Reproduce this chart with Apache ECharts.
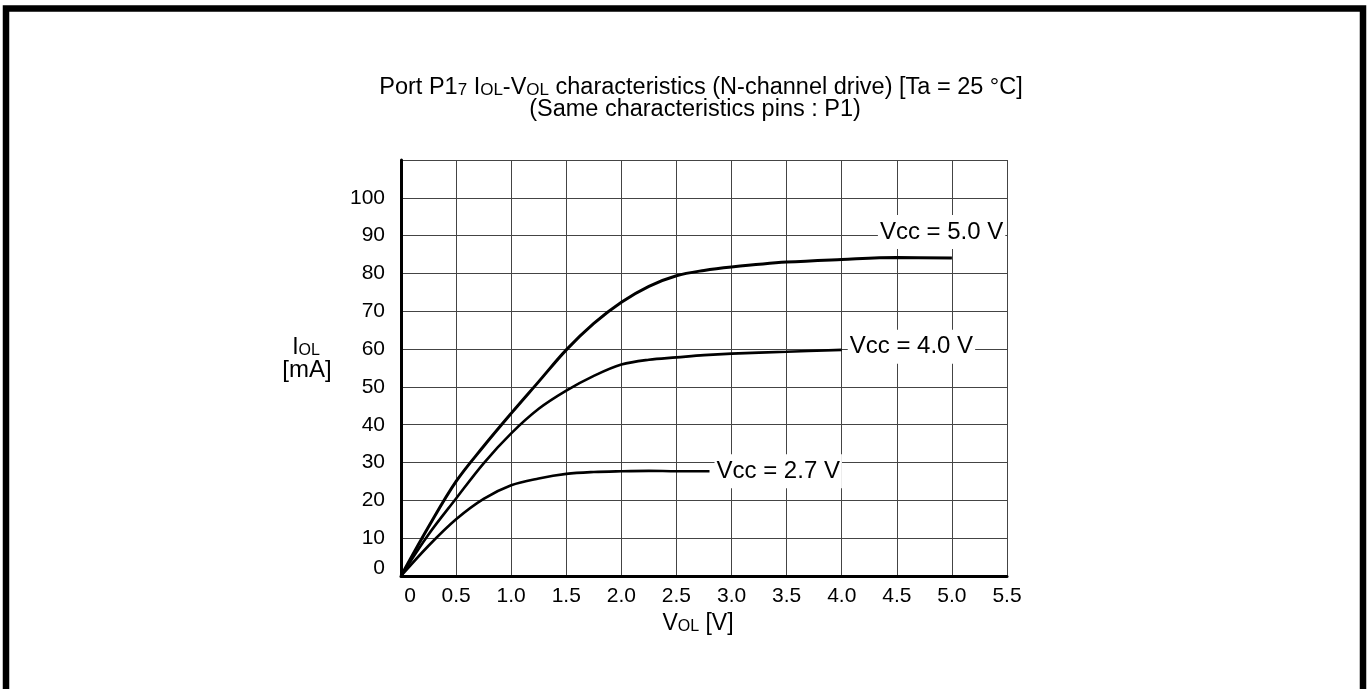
<!DOCTYPE html>
<html>
<head>
<meta charset="utf-8">
<script src="https://cdn.jsdelivr.net/npm/echarts@6/dist/echarts.min.js"></script>
<style>
  html, body { margin: 0; padding: 0; background: #fff; }
  #chart { width: 1370px; height: 689px; }
</style>
</head>
<body>
<div id="chart"></div>
<script>
// ---- data ----
const xTickLabels = ['0', '0.5', '1.0', '1.5', '2.0', '2.5', '3.0', '3.5', '4.0', '4.5', '5.0', '5.5'];
const yTickLabels = ['0', '10', '20', '30', '40', '50', '60', '70', '80', '90', '100'];

const seriesNames = ['Vcc = 5.0 V', 'Vcc = 4.0 V', 'Vcc = 2.7 V'];

const vcc50 = [[0, 0], [0.25, 13], [0.5, 25], [0.75, 34.3], [1.0, 43], [1.25, 51.4], [1.5, 59.8],
  [1.75, 66.8], [2.0, 72.4], [2.25, 76.6], [2.5, 79.4], [2.75, 80.8], [3.0, 81.7], [3.5, 83.0],
  [4.0, 83.7], [4.5, 84.2], [5.0, 84.1]];
const vcc40 = [[0, 0], [0.25, 11], [0.5, 20.5], [0.75, 29.8], [1.0, 37.7], [1.25, 44.2], [1.5, 49],
  [1.75, 52.9], [2.0, 55.9], [2.25, 57.2], [2.5, 57.8], [2.75, 58.4], [3.0, 58.8], [3.5, 59.3],
  [4.0, 59.8]];
const vcc27 = [[0, 0], [0.25, 8], [0.5, 15], [0.75, 20.4], [1.0, 24], [1.25, 25.8], [1.5, 27],
  [1.75, 27.5], [2.0, 27.7], [2.25, 27.8], [2.5, 27.7], [2.8, 27.7]];

// ---- chart ----
const FONT = '"Liberation Sans", Arial, Helvetica, sans-serif';
const chart = echarts.init(document.getElementById('chart'), null, { renderer: 'canvas' });

function endLabel(text, offset) {
  return {
    show: true,
    formatter: text,
    fontFamily: FONT,
    fontSize: 24,
    color: '#000',
    backgroundColor: '#fff',
    padding: [5, 2],
    distance: 0,
    offset: offset
  };
}

function lineSeries(name, data, width, offset) {
  return {
    name: name,
    type: 'line',
    data: data,
    smooth: 0.35,
    showSymbol: false,
    symbol: 'none',
    silent: true,
    lineStyle: { color: '#000', width: width },
    endLabel: endLabel(name, offset),
    z: 5
  };
}

const option = {
  backgroundColor: '#fff',
  animation: false,
  grid: { left: 401, top: 160, width: 606, height: 416, containLabel: false },
  xAxis: {
    type: 'value',
    min: 0, max: 5.5, interval: 0.5,
    axisLine: { show: true, onZero: false, lineStyle: { color: '#000', width: 3 } },
    axisTick: { show: false },
    splitLine: { show: true, lineStyle: { color: '#444', width: 1 } },
    axisLabel: {
      margin: 10,
      fontFamily: FONT, fontSize: 21, color: '#000',
      formatter: function (v) {
        const i = Math.round(v / 0.5);
        const t = xTickLabels[i] || '';
        return i === 0 ? '{z|' + t + '}' : t;
      },
      rich: { z: { fontFamily: FONT, fontSize: 21, color: '#000', padding: [0, 0, 0, 18] } }
    },
    z: 1
  },
  yAxis: {
    type: 'value',
    min: 0, max: 110, interval: 10,
    axisLine: { show: true, onZero: false, lineStyle: { color: '#000', width: 3 } },
    axisTick: { show: false },
    splitLine: { show: true, lineStyle: { color: '#444', width: 1 } },
    axisLabel: {
      margin: 16,
      fontFamily: FONT, fontSize: 21, color: '#000',
      formatter: function (v) {
        const i = Math.round(v / 10);
        const t = yTickLabels[i] || '';
        return i === 0 ? '{z|' + t + '}' : t;
      },
      rich: { z: { fontFamily: FONT, fontSize: 21, color: '#000', padding: [0, 0, 16, 0] } }
    },
    z: 1
  },
  series: [
    lineSeries(seriesNames[0], vcc50, 3, [-74, -26]),
    lineSeries(seriesNames[1], vcc40, 2.6, [6, -3]),
    lineSeries(seriesNames[2], vcc27, 2.6, [5, 0])
  ],
  graphic: [
    {
      type: 'polyline',
      shape: { points: [[6, 720], [6, 8.5], [1363, 8.5], [1363, 720]] },
      style: { stroke: '#000', lineWidth: 6.5, fill: null },
      silent: true
    },
    {
      type: 'text', x: 701, y: 88, silent: true,
      style: {
        text: '{a|Port P1}{s|7}{a| I}{s|OL}{a|-V}{s|OL}{a| characteristics (N-channel drive) [Ta = 25 °C]}',
        align: 'center', verticalAlign: 'middle', fill: '#000',
        rich: {
          a: { fontFamily: FONT, fontSize: 23.5, color: '#000', verticalAlign: 'bottom' },
          s: { fontFamily: FONT, fontSize: 17, color: '#000', verticalAlign: 'bottom', padding: [0, 0, 1, 0] }
        }
      }
    },
    {
      type: 'text', x: 695, y: 110, silent: true,
      style: {
        text: '(Same characteristics pins : P1)',
        align: 'center', verticalAlign: 'middle', fill: '#000',
        fontFamily: FONT, fontSize: 23.5
      }
    },
    {
      type: 'text', x: 306, y: 348, silent: true,
      style: {
        text: '{a|I}{s|OL}',
        align: 'center', verticalAlign: 'middle', fill: '#000',
        rich: {
          a: { fontFamily: FONT, fontSize: 23, color: '#000', verticalAlign: 'bottom' },
          s: { fontFamily: FONT, fontSize: 16, color: '#000', verticalAlign: 'bottom', padding: [0, 0, 1, 0] }
        }
      }
    },
    {
      type: 'text', x: 307, y: 370, silent: true,
      style: {
        text: '[mA]',
        align: 'center', verticalAlign: 'middle', fill: '#000',
        fontFamily: FONT, fontSize: 24
      }
    },
    {
      type: 'text', x: 698, y: 624, silent: true,
      style: {
        text: '{a|V}{s|OL}{a| [V]}',
        align: 'center', verticalAlign: 'middle', fill: '#000',
        rich: {
          a: { fontFamily: FONT, fontSize: 23, color: '#000', verticalAlign: 'bottom' },
          s: { fontFamily: FONT, fontSize: 16, color: '#000', verticalAlign: 'bottom', padding: [0, 0, 1, 0] }
        }
      }
    }
  ]
};

chart.setOption(option);
</script>
</body>
</html>
